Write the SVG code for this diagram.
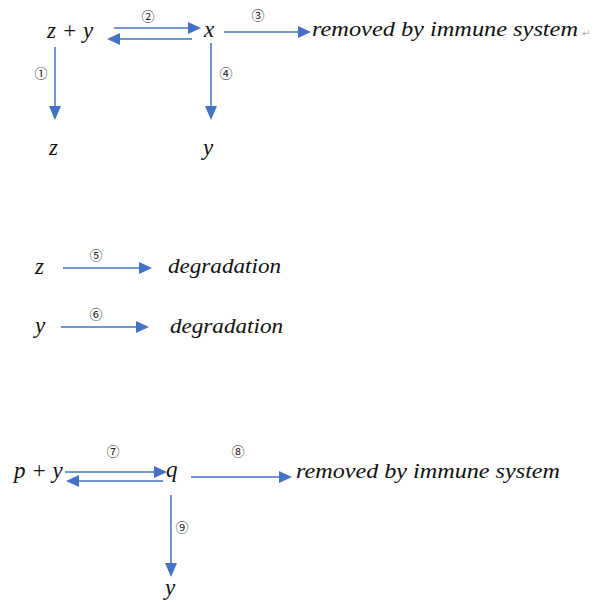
<svg xmlns="http://www.w3.org/2000/svg" width="596" height="603" viewBox="0 0 596 603">
<style>
.t{font-family:"Liberation Serif","DejaVu Serif",serif;font-style:italic;font-size:22px;fill:#111}
.m{font-family:"Liberation Serif","DejaVu Serif",serif;font-style:italic;font-size:23px;fill:#111}
.n{font-family:"Noto Sans CJK SC","DejaVu Sans",sans-serif;font-size:13px;fill:#222;text-anchor:middle}
.c line{stroke:#4472C4;stroke-width:1.5}
.c polygon{fill:#4472C4}
.p{font-family:"DejaVu Sans",sans-serif;font-size:10px;fill:#aaa}
</style>
<rect width="596" height="603" fill="#fff"/>
<g class="c" id="connectors">
<line x1="114" y1="28" x2="190" y2="28"/><polygon points="201,28 188,22 188,34"/>
<line x1="192" y1="39" x2="118" y2="39"/><polygon points="107,39 120,33 120,45"/>
<line x1="224" y1="32" x2="298" y2="32"/><polygon points="311,32 298,26 298,38"/>
<line x1="55" y1="47" x2="55" y2="106"/><polygon points="55,120 49,106 61,106"/>
<line x1="211" y1="43" x2="211" y2="106"/><polygon points="211,120 205,106 217,106"/>
<line x1="63" y1="268" x2="139" y2="268"/><polygon points="152,268 139,262 139,274"/>
<line x1="61" y1="327" x2="136" y2="327"/><polygon points="149,327 136,321 136,333"/>
<line x1="65" y1="472" x2="154" y2="472"/><polygon points="167,472 154,466 154,478"/>
<line x1="163" y1="481" x2="78" y2="481"/><polygon points="66,481 79,475 79,487"/>
<line x1="191" y1="477" x2="279" y2="477"/><polygon points="292,477 279,471 279,483"/>
<line x1="171" y1="495" x2="171" y2="563"/><polygon points="171,577 165,563 177,563"/>
</g>
<g id="labels">
<text class="n" x="148" y="21">②</text>
<text class="n" x="258" y="20">③</text>
<text class="n" x="41" y="78">①</text>
<text class="n" x="226" y="78">④</text>
<text class="n" x="96" y="260">⑤</text>
<text class="n" x="96" y="319">⑥</text>
<text class="n" x="113" y="456">⑦</text>
<text class="n" x="238" y="456">⑧</text>
<text class="n" x="182" y="532">⑨</text>
</g>
<g id="zy1"><text class="m" x="47" y="38">z + y</text></g>
<g id="x"><text class="m" x="204" y="37">x</text></g>
<g id="removed1"><text class="t" x="312" y="36" textLength="266" lengthAdjust="spacingAndGlyphs">removed by immune system</text><text class="p" x="582" y="37">↵</text></g>
<g id="z1"><text class="m" x="49" y="155">z</text></g>
<g id="y1"><text class="m" x="203" y="155">y</text></g>
<g id="z2"><text class="m" x="35" y="274">z</text></g>
<g id="deg1"><text class="t" x="168" y="273" textLength="113" lengthAdjust="spacingAndGlyphs">degradation</text></g>
<g id="y2"><text class="m" x="35" y="333">y</text></g>
<g id="deg2"><text class="t" x="170" y="333" textLength="113" lengthAdjust="spacingAndGlyphs">degradation</text></g>
<g id="py"><text class="m" x="14" y="478">p + y</text></g>
<g id="q"><text class="m" x="166" y="477">q</text></g>
<g id="removed2"><text class="t" x="296" y="478" textLength="264" lengthAdjust="spacingAndGlyphs">removed by immune system</text></g>
<g id="y3"><text class="m" x="165" y="595">y</text></g>
</svg>
